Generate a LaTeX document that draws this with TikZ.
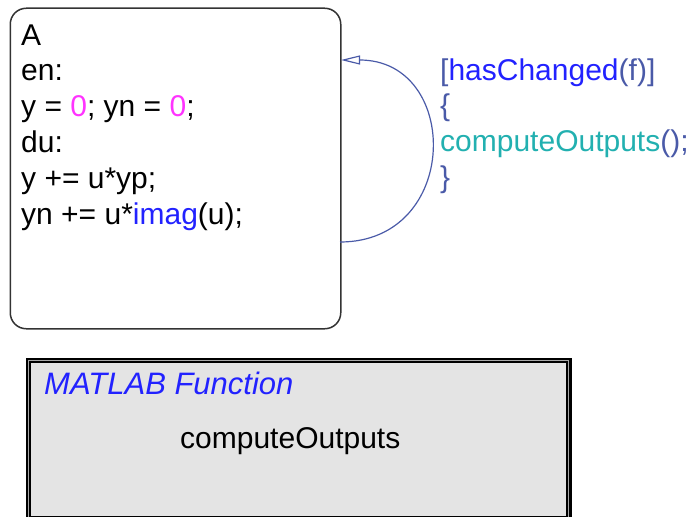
\documentclass[tikz,border=0pt]{standalone}
\usepackage{fontspec}
\setmainfont{Liberation Sans}
\usetikzlibrary{arrows.meta}
\definecolor{magz}{HTML}{FF33FF}
\definecolor{kwblue}{HTML}{2222FF}
\definecolor{slate}{HTML}{4A5AA8}
\definecolor{teal2}{HTML}{22B0B0}
\definecolor{boxgray}{HTML}{E4E4E4}
\definecolor{innerline}{HTML}{A8A8A8}
\definecolor{edge}{HTML}{333333}
\begin{document}
\begin{tikzpicture}[x=1pt,y=-1pt,
  txt/.style={inner sep=0pt, anchor=base west, align=left, font=\fontsize{30}{35.8}\selectfont},
  statebox/.style={draw=edge, line width=1.5pt, rounded corners=16pt, inner sep=0pt, anchor=north west},
  fnbox/.style={draw=black, line width=5.5pt, fill=boxgray, inner sep=0pt, anchor=north west},
  trans/.style={draw=slate, line width=1.2pt, -{Triangle[open,length=19pt,width=9pt,fill=white]}}]
\useasboundingbox (0,0) rectangle (692,516);
% chart state
\node[statebox, minimum width=330.5pt, minimum height=320.5pt] (A) at (9.5,7.5) {};
% multi-line node: base anchor sits on the last line
\node[txt] (Atext) at (21,224) {A\\en:\\y = \textcolor{magz}{0}; yn = \textcolor{magz}{0};\\du:\\y += u*yp;\\yn += u*\textcolor{kwblue}{imag}(u);};
% self transition
\coordinate (src) at (340,242);
\coordinate (dst) at (341,60);
\draw[trans] (src) .. controls (461,242) and (461,60) .. (dst);
\node[txt] (lbl) at (440,187.4) {\textcolor{slate}{[}\textcolor{kwblue}{hasChanged}\textcolor{slate}{(f)]}\\\textcolor{slate}{\{}\\\textcolor{teal2}{computeOutputs}\textcolor{slate}{();}\\\textcolor{slate}{\}}};
% MATLAB function box
\node[fnbox, minimum width=540.5pt, minimum height=158.5pt] (fn) at (25.75,357.75) {};
\draw[draw=innerline, line width=0.8pt] (fn.north west) ++(3.0,3.0) rectangle ([shift={(-3.0,-3.0)}]fn.south east);
\node[txt, font=\itshape\fontsize{31}{36}\selectfont, text=kwblue] (fntitle) at (44,394) {MATLAB Function};
\node[txt] (fnname) at (180,448) {computeOutputs};
\end{tikzpicture}
\end{document}
